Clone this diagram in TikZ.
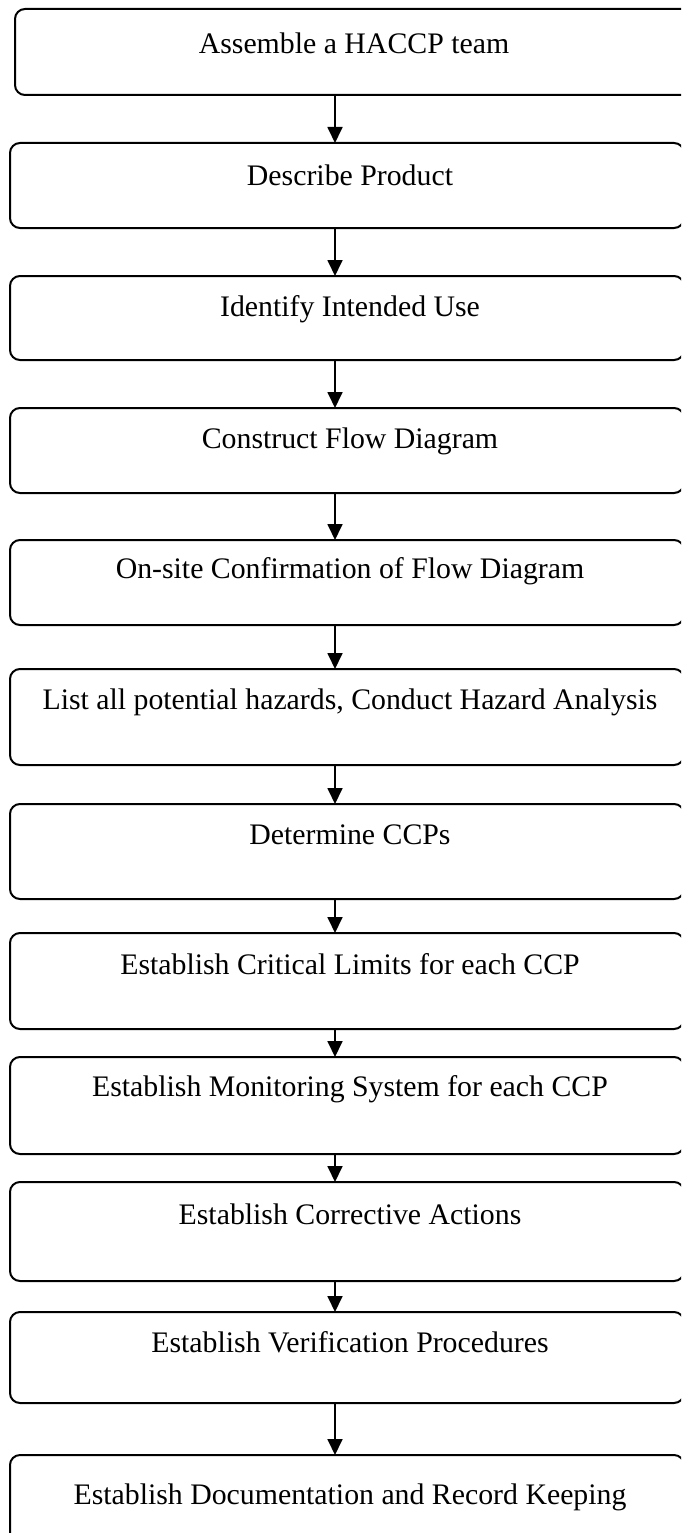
\documentclass[tikz,border=0pt]{standalone}
\usepackage{fontspec}
\setmainfont{Liberation Serif}
\usetikzlibrary{arrows.meta}

\tikzset{
  stepbox/.style={draw=black, line width=2pt, rounded corners=10pt,
    anchor=north west, inner sep=0pt, outer sep=0pt},
  steptext/.style={inner sep=0pt, anchor=center,
    font=\fontsize{29.8}{35}\selectfont},
  flow/.style={line width=1.8pt, -{Triangle[width=15pt,length=16pt]}}
}

\begin{document}
\begin{tikzpicture}[x=1pt, y=-1pt]
  \useasboundingbox (0,0) rectangle (681,1533);
  \clip (0,0) rectangle (681,1533);
  \fill[white] (0,0) rectangle (681,1533);

  % column of arrows
  \coordinate (ax) at (335,0);

  % step boxes: (left,top), width, height
  \node[stepbox, minimum width=680pt, minimum height=86pt] (b1) at (15,9) {};
  \node[stepbox, minimum width=674pt, minimum height=85pt] (b2) at (10,143) {};
  \node[stepbox, minimum width=674pt, minimum height=84pt] (b3) at (10,276) {};
  \node[stepbox, minimum width=674pt, minimum height=85pt] (b4) at (10,408) {};
  \node[stepbox, minimum width=674pt, minimum height=85pt] (b5) at (10,540) {};
  \node[stepbox, minimum width=674pt, minimum height=96pt] (b6) at (10,669) {};
  \node[stepbox, minimum width=674pt, minimum height=95pt] (b7) at (10,804) {};
  \node[stepbox, minimum width=674pt, minimum height=96pt] (b8) at (10,933) {};
  \node[stepbox, minimum width=674pt, minimum height=97pt] (b9) at (10,1057) {};
  \node[stepbox, minimum width=674pt, minimum height=99pt] (b10) at (10,1182) {};
  \node[stepbox, minimum width=674pt, minimum height=91pt] (b11) at (10,1312) {};
  \node[stepbox, minimum width=674pt, minimum height=110pt] (b12) at (10,1455) {};

  % step labels
  \node[steptext] (t1) at (354,43) {Assemble a HACCP team};
  \node[steptext] (t2) at (350,175) {Describe Product};
  \node[steptext] (t3) at (350,309) {Identify Intended Use};
  \node[steptext] (t4) at (350,441) {Construct Flow Diagram};
  \node[steptext] (t5) at (350,571) {On-site Confirmation of Flow Diagram};
  \node[steptext] (t6) at (350,702) {List all potential hazards, Conduct Hazard Analysis};
  \node[steptext] (t7) at (350,835) {Determine CCPs};
  \node[steptext] (t8) at (350,964) {Establish Critical Limits for each CCP};
  \node[steptext] (t9) at (350,1089) {Establish Monitoring System for each CCP};
  \node[steptext] (t10) at (350,1214) {Establish Corrective Actions};
  \node[steptext] (t11) at (350,1342) {Establish Verification Procedures};
  \node[steptext] (t12) at (350,1497) {Establish Documentation and Record Keeping};

  % connectors
  \foreach \a/\b in {b1/b2,b2/b3,b3/b4,b4/b5,b5/b6,b6/b7,b7/b8,b8/b9,b9/b10,b10/b11,b11/b12}
    \draw[flow] (\a.south -| ax) -- (\b.north -| ax);
\end{tikzpicture}
\end{document}
